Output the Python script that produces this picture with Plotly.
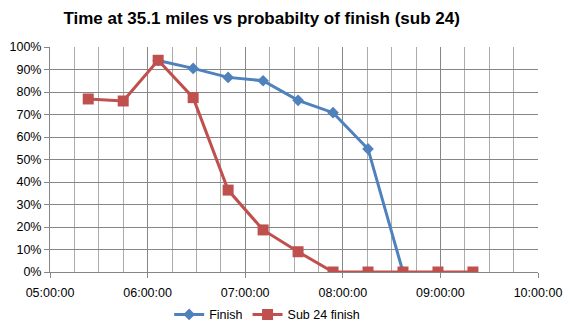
import plotly.graph_objects as go

# Time at 35.1 miles (clock time) for each bin
times = ["05:23:30", "05:45:00", "06:06:30", "06:28:00", "06:49:30", "07:11:00",
         "07:32:30", "07:54:00", "08:15:30", "08:37:00", "08:58:30", "09:20:00"]

finish_times = times[2:10]
finish_pct = [0.94, 0.905, 0.865, 0.85, 0.763, 0.708, 0.547, 0.0]

sub24_times = times
sub24_pct = [0.769, 0.76, 0.941, 0.775, 0.364, 0.187, 0.09, 0.0, 0.0, 0.0, 0.0, 0.0]

day = "2000-01-01 "
blue = "#4F81BD"
red = "#C0504D"
grid = "#868686"
minor_grid = "#ABABAB"

fig = go.Figure()
fig.add_trace(go.Scatter(
    x=[day + t for t in finish_times], y=finish_pct, name="Finish",
    mode="lines+markers",
    line=dict(color=blue, width=3),
    marker=dict(symbol="diamond", size=9, color=blue),
))
fig.add_trace(go.Scatter(
    x=[day + t for t in sub24_times], y=sub24_pct, name="Sub 24 finish",
    mode="lines+markers",
    line=dict(color=red, width=3),
    marker=dict(symbol="square", size=11, color=red),
))

fig.update_layout(
    width=575, height=332,
    margin=dict(l=50, r=37, t=47, b=60, autoexpand=False),
    paper_bgcolor="white", plot_bgcolor="white",
    font=dict(family="Liberation Sans, Arial, sans-serif", size=12, color="black"),
    title=dict(text="<b>Time at 35.1 miles vs probabilty of finish (sub 24)</b>",
               x=0.455, xanchor="center", y=0.945, yanchor="middle",
               font=dict(size=17, color="black")),
    showlegend=True,
    legend=dict(orientation="h", x=0.445, xanchor="center", y=-0.19, yanchor="middle",
                font=dict(size=12.5), itemwidth=30, tracegroupgap=0),
    xaxis=dict(
        type="date",
        range=[day + "05:00:00", day + "10:00:00"],
        dtick=3600000, tick0=day + "05:00:00",
        tickformat="%H:%M:%S",
        showgrid=True, gridcolor=grid, gridwidth=1,
        minor=dict(dtick=900000, showgrid=True, gridcolor=minor_grid, gridwidth=1),
        showline=True, linecolor=grid, linewidth=1,
        ticks="outside", ticklen=5, tickcolor=grid,
        ticklabelstandoff=4,
        tickfont=dict(size=12.5),
        zeroline=False, fixedrange=True,
    ),
    yaxis=dict(
        range=[0, 1], dtick=0.1, tickformat=".0%",
        showgrid=True, gridcolor=grid, gridwidth=1,
        showline=True, linecolor=grid, linewidth=1,
        ticks="outside", ticklen=5, tickcolor=grid,
        tickfont=dict(size=12.5),
        zeroline=False, fixedrange=True,
    ),
)

fig.write_html("out.html")
